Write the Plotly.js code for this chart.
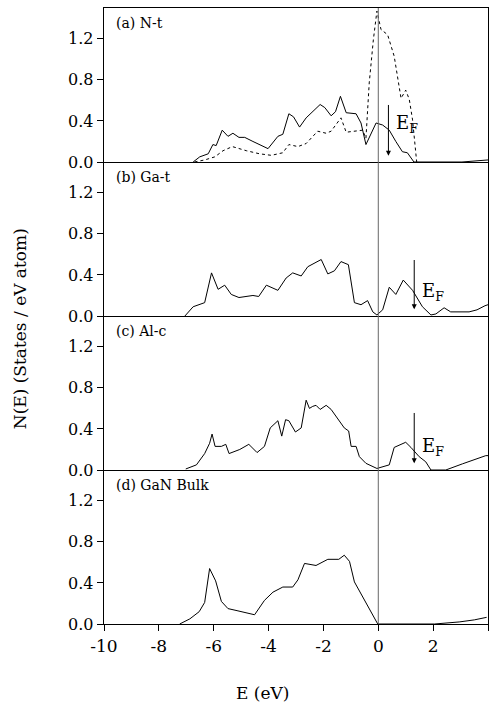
<!DOCTYPE html>
<html>
<head>
<meta charset="utf-8">
<script src="https://cdn.plot.ly/plotly-3.0.1.min.js"></script>
<style>html,body{margin:0;padding:0;background:#fff;}#chart{width:489px;height:706px;}</style>
</head>
<body>
<div id="chart"></div>
<script>
// (a) N-t
var eA_solid = [-6.75,-6.51,-6.2,-6.03,-5.91,-5.69,-5.48,-5.3,-5.08,-4.87,-4.57,-4.02,-3.66,-3.48,-3.26,-3.09,-2.87,-2.63,-2.12,-1.95,-1.72,-1.56,-1.38,-1.17,-0.81,-0.63,-0.45,-0.08,0.16,0.4,0.64,0.88,1.06,1.25,1.3,3.05,3.5,4.0];
var nA_solid = [0,0.05,0.08,0.17,0.16,0.31,0.25,0.28,0.24,0.24,0.2,0.13,0.25,0.27,0.47,0.44,0.34,0.43,0.56,0.53,0.45,0.49,0.64,0.48,0.47,0.38,0.17,0.38,0.36,0.31,0.2,0.1,0.09,0.02,0,0,0.01,0.02];
var eA_dash = [-6.7,-6.33,-5.96,-5.66,-5.32,-4.81,-4.33,-3.9,-3.48,-3.26,-2.93,-2.63,-2.21,-1.9,-1.72,-1.36,-1.17,-0.81,-0.57,-0.45,-0.33,-0.18,-0.05,0.1,0.34,0.58,0.83,1.0,1.13,1.25,1.37,1.4];
var nA_dash = [0,0.02,0.05,0.11,0.15,0.11,0.08,0.065,0.09,0.17,0.15,0.18,0.3,0.28,0.3,0.43,0.29,0.3,0.31,0.23,0.77,1.19,1.47,1.29,1.24,1.03,0.62,0.7,0.61,0.41,0.1,0];
// (b) Ga-t
var eB = [-7.05,-6.75,-6.33,-6.08,-5.84,-5.6,-5.36,-5.08,-4.57,-4.36,-4.08,-3.66,-3.36,-3.12,-2.81,-2.57,-2.08,-1.84,-1.6,-1.36,-1.09,-0.87,-0.63,-0.39,-0.2,-0.05,0.16,0.4,0.64,0.91,1.25,1.61,1.92,2.1,2.4,2.64,3.31,3.6,3.89,4.0];
var nB = [0,0.09,0.13,0.42,0.26,0.3,0.21,0.18,0.2,0.19,0.3,0.25,0.37,0.42,0.39,0.48,0.55,0.41,0.44,0.53,0.5,0.13,0.11,0.15,0.04,0.01,0.06,0.28,0.21,0.35,0.25,0.09,0.01,0.02,0.08,0.04,0.04,0.06,0.1,0.11];
// (c) Al-c
var eC = [-7.02,-6.63,-6.33,-6.15,-6.06,-5.95,-5.72,-5.56,-5.44,-5.05,-4.72,-4.42,-4.15,-3.94,-3.66,-3.52,-3.38,-3.26,-3.02,-2.81,-2.63,-2.51,-2.39,-2.27,-2.12,-1.9,-1.72,-1.54,-1.24,-1.08,-0.99,-0.81,-0.69,-0.45,-0.05,0.4,0.58,1.0,1.19,1.49,1.73,1.92,2.46,3.07,3.49,3.92,4.0];
var nC = [0.01,0.05,0.16,0.26,0.35,0.23,0.23,0.25,0.16,0.2,0.25,0.17,0.23,0.41,0.48,0.33,0.49,0.48,0.37,0.41,0.68,0.6,0.62,0.63,0.59,0.63,0.59,0.52,0.41,0.38,0.23,0.23,0.13,0.065,0.015,0.05,0.22,0.27,0.22,0.13,0.08,0,0,0.06,0.1,0.14,0.14];
// (d) GaN Bulk
var eD = [-7.24,-6.87,-6.53,-6.33,-6.15,-5.93,-5.72,-5.48,-5.15,-4.51,-4.15,-3.84,-3.48,-3.12,-2.93,-2.69,-2.27,-1.84,-1.44,-1.24,-1.05,-0.87,-0.02,2.05,2.95,3.5,3.95];
var nD = [0,0.05,0.12,0.21,0.54,0.42,0.22,0.15,0.13,0.09,0.23,0.31,0.36,0.36,0.43,0.59,0.57,0.63,0.63,0.67,0.61,0.41,0,0,0.02,0.04,0.065];

var panelLabels = ['(a) N-t','(b) Ga-t','(c) Al-c','(d) GaN Bulk'];
var yTicks = [0,0.4,0.8,1.2];
var yTickText = ['0.0','0.4','0.8','1.2'];
var xTicks = [-10,-8,-6,-4,-2,0,2,4];
var xTickText = ['-10','-8','-6','-4','-2','0','2','4'];
// Fermi-level arrows: [x, top, bottom, labelX, labelY]
var efA = [0.37,0.57,0.06,0.56,0.37];
var efB = [1.31,0.56,0.065,1.53,0.23];
var efC = [1.31,0.57,0.065,1.53,0.22];

var serif = 'DejaVu Serif';
var line = {color:'#000', width:1};
var traces = [
  {x:eA_solid, y:nA_solid, xaxis:'x', yaxis:'y', mode:'lines', line:line},
  {x:eA_dash, y:nA_dash, xaxis:'x', yaxis:'y', mode:'lines', line:{color:'#000', width:1, dash:'3px,3px'}},
  {x:eB, y:nB, xaxis:'x2', yaxis:'y2', mode:'lines', line:line},
  {x:eC, y:nC, xaxis:'x3', yaxis:'y3', mode:'lines', line:line},
  {x:eD, y:nD, xaxis:'x4', yaxis:'y4', mode:'lines', line:line}
];

var layout = {
  width:489, height:706,
  margin:{l:104, r:1, t:8, b:82},
  showlegend:false,
  paper_bgcolor:'#fff', plot_bgcolor:'#fff',
  font:{family:serif, color:'#000', size:16},
  annotations:[], shapes:[]
};
var doms = [[0.75,1],[0.5,0.75],[0.25,0.5],[0,0.25]];
for (var i=0;i<4;i++){
  var s = i===0 ? '' : String(i+1);
  var xa = {
    domain:[0,1], range:[-10,4], anchor:'y'+s,
    showline:true, linecolor:'#000', linewidth:1.3,
    showgrid:false, zeroline:false, mirror: i===0 ? true : false,
    tickvals:xTicks, ticktext:xTickText, ticks: i===3 ? 'outside' : '', ticklen:6, tickcolor:'#000',
    showticklabels: i===3, tickfont:{family:serif, size:17}
  };
  if (i<3) xa.matches = 'x4';
  layout['xaxis'+s] = xa;
  layout['yaxis'+s] = {
    domain:doms[i], range:[0,1.5], anchor:'x'+s,
    showline:true, linecolor:'#000', linewidth:1.3, mirror:true,
    showgrid:false, zeroline:false,
    tickvals:yTicks, ticktext:yTickText, ticks:'outside', ticklen:6, tickcolor:'#000',
    tickfont:{family:serif, size:16}
  };
  layout.annotations.push({
    xref:'x'+s, yref:'y'+s, x:-9.65, y:1.35, xanchor:'left', yanchor:'middle',
    text:panelLabels[i], showarrow:false, font:{family:serif, size:14}
  });
}
// zero-energy vertical line
layout.shapes.push({type:'line', xref:'x4', yref:'paper', x0:0, x1:0, y0:0, y1:1, line:{color:'#666', width:1}});

function addEF(ef, s){
  layout.annotations.push({
    xref:'x'+s, yref:'y'+s, axref:'x'+s, ayref:'y'+s,
    x:ef[0], y:ef[2], ax:ef[0], ay:ef[1], text:'', showarrow:true,
    arrowhead:2, arrowsize:1, arrowwidth:1, arrowcolor:'#000'
  });
  layout.annotations.push({
    xref:'x'+s, yref:'y'+s, x:ef[3], y:ef[4], xanchor:'left', yanchor:'middle',
    text:'E<sub>F</sub>', showarrow:false, font:{family:serif, size:18}
  });
}
addEF(efA,''); addEF(efB,'2'); addEF(efC,'3');

layout.annotations.push({
  xref:'paper', yref:'paper', x:-0.219, y:0.48, xanchor:'center', yanchor:'middle', textangle:-90,
  text:'N(E) (States / eV atom)', showarrow:false, font:{family:serif, size:17}
});
layout.annotations.push({
  xref:'x4', yref:'paper', x:-4.22, y:-0.112, xanchor:'center', yanchor:'middle',
  text:'E (eV)', showarrow:false, font:{family:serif, size:17}
});

Plotly.newPlot('chart', traces, layout, {displayModeBar:false, staticPlot:true});
</script>
</body>
</html>
